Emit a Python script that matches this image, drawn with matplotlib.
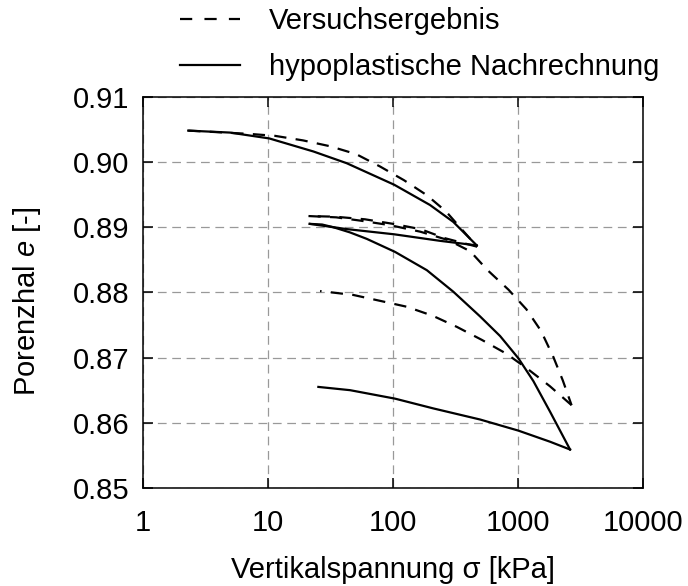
import matplotlib
matplotlib.use("Agg")
import matplotlib.pyplot as plt
from matplotlib.lines import Line2D
from matplotlib.ticker import FixedLocator, FixedFormatter, NullLocator

plt.rcParams['font.family'] = ['Liberation Sans', 'DejaVu Sans']
plt.rcParams['mathtext.fontset'] = 'custom'
plt.rcParams['mathtext.rm'] = 'Liberation Sans'
plt.rcParams['mathtext.it'] = 'Liberation Sans:italic'

# ---- Data ----
# Hypoplastic calculation (solid)
calc_load1_s = [2.29, 4.94, 10.2, 23, 42.5, 102, 197, 303, 467]
calc_load1_e = [0.9048, 0.9045, 0.9036, 0.9016, 0.8998, 0.8965, 0.8934, 0.8908, 0.8872]
calc_unl1_s = [467, 237, 102, 42.5, 21.5]
calc_unl1_e = [0.8872, 0.8879, 0.8889, 0.8897, 0.8905]
calc_rel1_s = [21.5, 27, 33, 45, 61.5, 103.6, 186, 303, 497, 718, 1005, 1325, 1803, 2607]
calc_rel1_e = [0.8905, 0.8904, 0.8900, 0.8892, 0.8882, 0.8862, 0.8834, 0.8801, 0.8763, 0.8733, 0.8699, 0.8664, 0.8617, 0.8559]
calc_unl2_s = [2607, 1800, 1005, 497, 210, 103.6, 45.2, 25.2]
calc_unl2_e = [0.8559, 0.8571, 0.8588, 0.8605, 0.8622, 0.8637, 0.8650, 0.8655]

# Test result (dashed)
test_load1_s = [2.29, 7.05, 11.3, 19, 31.3, 50.5, 78.5, 122, 186, 265, 470]
test_load1_e = [0.9048, 0.9043, 0.9040, 0.9033, 0.9024, 0.9012, 0.8993, 0.8972, 0.8949, 0.8924, 0.8870]
test_unl1_s = [470, 260, 165, 100, 59.5, 34.3, 21]
test_unl1_e = [0.8870, 0.8883, 0.8897, 0.8905, 0.8912, 0.8916, 0.8917]
test_rel1_s = [21, 35, 54.5, 94.5, 165, 277, 414, 570, 839, 1166, 1525, 1915, 2280, 2680]
test_rel1_e = [0.8917, 0.8915, 0.8910, 0.8903, 0.8893, 0.8880, 0.8863, 0.8834, 0.8804, 0.8774, 0.8741, 0.8701, 0.8665, 0.8627]
test_unl2_s = [2680, 1800, 1185, 805, 514, 324, 208, 128, 78.5, 48, 26]
test_unl2_e = [0.8627, 0.8656, 0.8683, 0.8706, 0.8727, 0.8747, 0.8764, 0.8778, 0.8787, 0.8796, 0.8802]

x_ticks = [1, 10, 100, 1000, 10000]
x_tick_labels = ["1", "10", "100", "1000", "10000"]
y_ticks = [0.85, 0.86, 0.87, 0.88, 0.89, 0.90, 0.91]
y_tick_labels = ["0.85", "0.86", "0.87", "0.88", "0.89", "0.90", "0.91"]

legend_labels = ["Versuchsergebnis", "hypoplastische Nachrechnung"]

# ---- Figure ----
W, H = 688, 586
fig = plt.figure(figsize=(W / 100, H / 100), dpi=100)
ax = fig.add_axes([143.3 / W, 1 - 488 / H, (643 - 143.3) / W, (488 - 96.7) / H])

fs = 21
lw = 1.6
dash = (0, (5.5, 4.2))

for s, e in [(calc_load1_s, calc_load1_e), (calc_unl1_s, calc_unl1_e),
             (calc_rel1_s, calc_rel1_e), (calc_unl2_s, calc_unl2_e)]:
    ax.plot(s, e, color='black', lw=lw, linestyle='-', solid_joinstyle='round')
for s, e in [(test_load1_s, test_load1_e), (test_unl1_s, test_unl1_e),
             (test_rel1_s, test_rel1_e), (test_unl2_s, test_unl2_e)]:
    ax.plot(s, e, color='black', lw=lw, linestyle=dash)

ax.set_xscale('log')
ax.set_xlim(1, 10000)
ax.set_ylim(0.85, 0.91)
ax.xaxis.set_major_locator(FixedLocator(x_ticks))
ax.xaxis.set_major_formatter(FixedFormatter(x_tick_labels))
ax.xaxis.set_minor_locator(NullLocator())
ax.yaxis.set_major_locator(FixedLocator(y_ticks))
ax.yaxis.set_major_formatter(FixedFormatter(y_tick_labels))

ax.tick_params(axis='both', which='major', direction='in', length=7, width=1.1,
               top=True, right=True, labelsize=fs, colors='black')
ax.tick_params(axis='x', pad=15)
ax.tick_params(axis='y', pad=10)

ax.grid(True, color='#999999', lw=0.9, linestyle=(0, (7, 4.5)))
for sp in ax.spines.values():
    sp.set_linewidth(1.1)
    sp.set_color('black')

ax.set_xlabel("Vertikalspannung σ [kPa]", fontsize=fs)
ax.xaxis.set_label_coords(0.5, -0.175)
ax.set_ylabel("Porenzhal $e$ [-]", fontsize=fs)
ax.yaxis.set_label_coords(-0.2, 0.476)

handles = [Line2D([], [], color='black', lw=lw, linestyle=(0, (5.5, 5.5))),
           Line2D([], [], color='black', lw=lw, linestyle='-')]
fig.legend(handles, legend_labels, loc='upper left',
           bbox_to_anchor=(180 / W, 1 - 7 / H), frameon=False, fontsize=fs,
           handlelength=2.05, handletextpad=1.0, labelspacing=0.62,
           borderaxespad=0, borderpad=0)

fig.savefig("out.png", dpi=100)
